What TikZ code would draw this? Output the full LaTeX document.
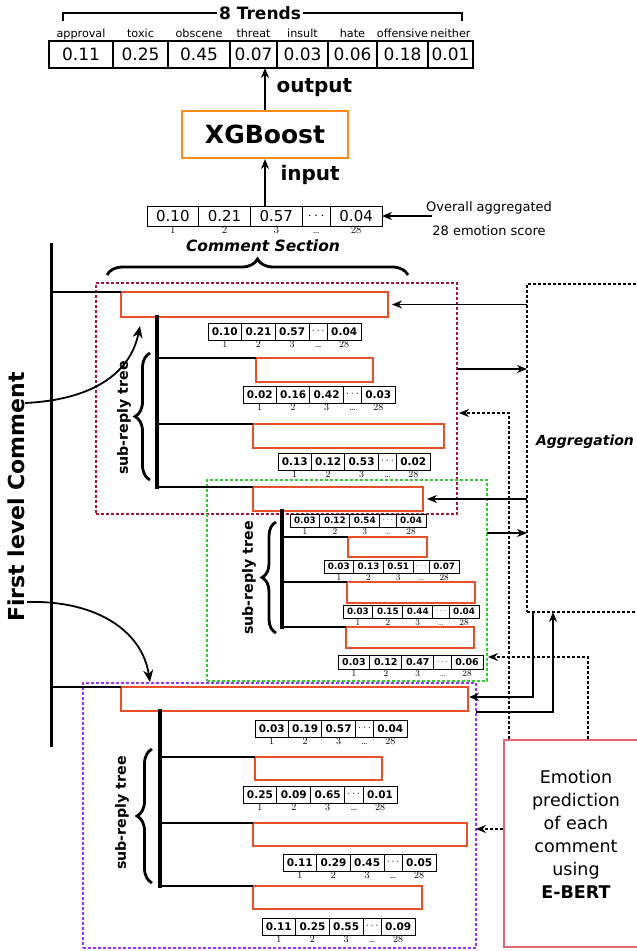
\documentclass[tikz,border=0pt]{standalone}
\usepackage{fontspec}
\newfontfamily\dv{DejaVu Sans}
\usetikzlibrary{arrows.meta,decorations.pathreplacing,fit,calc}
\definecolor{cbox}{HTML}{E8502A}
\definecolor{xgb}{HTML}{FF8C1A}
\definecolor{dred}{HTML}{A31535}
\definecolor{dgreen}{HTML}{33CC33}
\definecolor{dpurple}{HTML}{9933FF}
\definecolor{ebox}{HTML}{E06870}
\newcommand\idxfont{\fontsize{9}{9}\selectfont}
\newcommand{\emvec}[9]{%
  \node[cell, minimum width={0.22*#3}, minimum height=#4, font={#5}] (#1a) at #2 {#6};
  \node[cell, minimum width={0.22*#3}, minimum height=#4, font={#5}] (#1b) at (#1a.north east) {#7};
  \node[cell, minimum width={0.22*#3}, minimum height=#4, font={#5}] (#1c) at (#1b.north east) {#8};
  \node[cell, minimum width={0.12*#3}, minimum height=#4, font={#5}] (#1d) at (#1c.north east) {$\cdots$};
  \node[cell, minimum width={0.22*#3}, minimum height=#4, font={#5}] (#1e) at (#1d.north east) {#9};
  \foreach \vx/\vt in {a/1,b/2,c/3,d/\dots,e/28} \node[idx] at (#1\vx.south) {\vt};
}
\begin{document}
\begin{tikzpicture}[x=1pt,y=-1pt,
  cb/.style={draw=cbox, line width=2pt, inner sep=0pt, outer sep=0pt},
  dbox/.style={line width=1.3pt, dash pattern=on 3pt off 2pt, inner sep=0pt, outer sep=0pt},
  cell/.style={draw, line width=0.9pt, inner sep=0pt, outer sep=0pt, anchor=north west},
  tcell/.style={draw, line width=1.8pt, inner sep=0pt, outer sep=0pt, anchor=north west, minimum height=27pt, font=\dv\fontsize{17}{17}\selectfont},
  lbl/.style={anchor=base, inner sep=0pt, font=\dv\fontsize{11.2}{12}\selectfont},
  idx/.style={font=\idxfont, anchor=north, inner sep=0pt, text height=6.5pt, text depth=0pt, yshift=-1pt},
  trunk/.style={line width=3.5pt, line cap=rect},
  br/.style={line width=2.5pt},
  arr/.style={-{Stealth[length=10pt,width=8pt]}, line width=1.3pt},
  darr/.style={arr, dash pattern=on 3pt off 2pt},
  carr/.style={-{Stealth[length=12pt,width=10pt]}, line width=1.8pt},
  brc/.style={decorate, decoration={brace, amplitude=#1}, line width=2.8pt},
  brc/.default=15,
  srt/.style={rotate=90, font=\dv\bfseries\fontsize{14.2}{15}\selectfont}
]
\clip (0,0) rectangle (637,951);

% ---------- top table ----------
\draw[line width=1.6pt] (63,21) -- (63,13) -- (462,13) -- (462,21);
\node[fill=white, inner sep=2pt, font=\dv\bfseries\fontsize{17}{17}\selectfont] (tr) at (260,13) {8 Trends};
\foreach \nm/\xa/\xb/\v/\lb in {t1/49/113/0.11/approval, t2/113/168/0.25/toxic, t3/168/230/0.45/obscene, t4/230/277/0.07/threat, t5/277/328/0.03/insult, t6/328/377/0.06/hate, t7/377/428/0.18/offensive, t8/428/473/0.01/neither}{
  \node[tcell, minimum width=\xb-\xa] (\nm) at (\xa,41) {\v};
  \node[lbl] at ($(\nm.north)+(0,-4)$) {\lb};
}

% ---------- XGBoost ----------
\node[draw=xgb, line width=2pt, minimum width=166pt, minimum height=47pt, inner sep=0pt,
      font=\dv\bfseries\fontsize{25}{25}\selectfont] (xg) at (265,134.5) {XGBoost};
\draw[arr, line width=1.8pt] (xg.north) -- (xg.north |- t4.south);
\node[anchor=west, font=\dv\bfseries\fontsize{20}{20}\selectfont] at (273,88) {output};
\node[anchor=west, font=\dv\bfseries\fontsize{20}{20}\selectfont] at (277,175) {input};

% ---------- input vector ----------
\renewcommand\idxfont{\fontsize{11}{11}\selectfont}
\emvec{iv}{(147,206)}{235}{20}{\dv\fontsize{15}{15}\selectfont}{0.10}{0.21}{0.57}{0.04}
\draw[arr, line width=1.8pt] (xg.south |- ivc.north) -- (xg.south);
\node[align=center, font=\dv\fontsize{13}{24}\selectfont] (ov) at (489,219) {Overall aggregated\\28 emotion score};
\draw[arr, line width=1.6pt] ($(ive.east -| ov.west)+(9,0)$) -- (ive.east);
\node[font=\dv\bfseries\itshape\fontsize{15.5}{16}\selectfont] (cs) at (263,246) {Comment Section};
\draw[brc=16] (107,275) -- (408,275);

% ---------- first level line ----------
\node[rotate=90, font=\dv\bfseries\fontsize{22}{22}\selectfont] (flc) at (16,497) {First level Comment};
\coordinate (mtop) at (51,243);
\coordinate (mbot) at (51,747);
\draw[line width=3pt] (mtop) -- (mbot);

% ---------- dashed boxes ----------
\node[dbox, draw=dred, fit={(96,283)(457,514)}] (rbox) {};
\node[dbox, draw=dgreen, fit={(207,480)(487,681)}] (gbox) {};
\node[dbox, draw=dpurple, fit={(83,683)(476,948)}] (pbox) {};

% ---------- red section ----------
\renewcommand\idxfont{\fontsize{10}{10}\selectfont}
\node[cb, fit={(121,292)(388,317)}] (r0) {};
\node[cb, fit={(256,358)(373,382)}] (r1) {};
\node[cb, fit={(253,424)(444,448)}] (r2) {};
\node[cb, fit={(253,487)(423,511)}] (g0) {};
\draw[br] (mtop |- r0.north west) -- (r0.north west);
\coordinate (rt) at (157,0);
\draw[trunk] (rt |- r0.south) -- (rt |- g0.north west);
\foreach \b in {r1,r2,g0} \draw[br] (rt |- \b.north west) -- (\b.north west);
\emvec{rva}{(208,323)}{153}{17}{\dv\bfseries\fontsize{10.5}{11}\selectfont}{0.10}{0.21}{0.57}{0.04}
\emvec{rvb}{(243,386)}{152}{17}{\dv\bfseries\fontsize{10.5}{11}\selectfont}{0.02}{0.16}{0.42}{0.03}
\emvec{rvc}{(278,453)}{152}{17}{\dv\bfseries\fontsize{10.5}{11}\selectfont}{0.13}{0.12}{0.53}{0.02}
\draw[brc=15] (150,480) -- (150,353);
\node[srt] at (124,418) {sub-reply tree};

% ---------- green section ----------
\renewcommand\idxfont{\fontsize{9}{9}\selectfont}
\node[cb, fit={(348,537)(427,557)}] (g1) {};
\node[cb, fit={(347,582)(475,603)}] (g2) {};
\node[cb, fit={(346,627)(474,648)}] (g3) {};
\coordinate (gt) at (282,0);
\draw[trunk] (gt |- g0.south) -- (gt |- g3.north west);
\foreach \b in {g1,g2,g3} \draw[br] (gt |- \b.north west) -- (\b.north west);
\emvec{gva}{(290,514)}{136}{13}{\dv\bfseries\fontsize{8.8}{9}\selectfont}{0.03}{0.12}{0.54}{0.04}
\emvec{gvb}{(324,560)}{135}{13}{\dv\bfseries\fontsize{8.8}{9}\selectfont}{0.03}{0.13}{0.51}{0.07}
\emvec{gvc}{(343,605)}{136}{13}{\dv\bfseries\fontsize{8.8}{9}\selectfont}{0.03}{0.15}{0.44}{0.04}
\emvec{gvd}{(338,655)}{145}{14}{\dv\bfseries\fontsize{9.5}{10}\selectfont}{0.03}{0.12}{0.47}{0.06}
\draw[brc=14] (276,633) -- (276,522);
\node[srt] at (249,578) {sub-reply tree};

% ---------- purple section ----------
\renewcommand\idxfont{\fontsize{10}{10}\selectfont}
\node[cb, fit={(121,687)(468,711)}] (p0) {};
\node[cb, fit={(255,757)(382,780)}] (p1) {};
\node[cb, fit={(253,823)(467,846)}] (p2) {};
\node[cb, fit={(253,886)(422,909)}] (p3) {};
\draw[br] (mtop |- p0.north west) -- (p0.north west);
\coordinate (pt) at (160,0);
\draw[trunk] (pt |- p0.south) -- (pt |- p3.north west);
\foreach \b in {p1,p2,p3} \draw[br] (pt |- \b.north west) -- (\b.north west);
\emvec{pva}{(255,720)}{152}{17}{\dv\bfseries\fontsize{10.5}{11}\selectfont}{0.03}{0.19}{0.57}{0.04}
\emvec{pvb}{(243,786)}{154}{17}{\dv\bfseries\fontsize{10.5}{11}\selectfont}{0.25}{0.09}{0.65}{0.01}
\emvec{pvc}{(283,854)}{153}{17}{\dv\bfseries\fontsize{10.5}{11}\selectfont}{0.11}{0.29}{0.45}{0.05}
\emvec{pvd}{(262,918)}{153}{17}{\dv\bfseries\fontsize{10.5}{11}\selectfont}{0.11}{0.25}{0.55}{0.09}
\draw[brc=15] (152,883) -- (152,749);
\node[srt] at (122,813) {sub-reply tree};

% ---------- curved arrows ----------
\coordinate (fa) at (25,403);
\coordinate (fb) at (27,602);
\draw[carr] (fa) .. controls (90,400) and (130,375) .. ($(r0.south west)+(19,9)$);
\draw[carr] (fb) .. controls (95,600) and (142,630) .. ($(pbox.north west)+(67,-1)$);

% ---------- aggregation / emotion ----------
\node[dbox, draw=black, fit={(527,284)(645,612)}] (agg) {};
\node[font=\dv\bfseries\itshape\fontsize{14}{14}\selectfont] at (585,442) {Aggregation};
\node[draw=ebox, line width=1.5pt, inner sep=0pt, fit={(504,740)(645,947)}] (em) {};
\node[align=center, font=\dv\fontsize{17.5}{23}\selectfont] at (576,834) {Emotion\\prediction\\of each\\comment\\using\\\textbf{E-BERT}};

\draw[arr, shorten >=4pt] (agg.west |- r0.east) -- (r0.east);
\coordinate (c2) at (457,369);
\draw[arr] (c2) -- (agg.west |- c2);
\coordinate (c3) at (509,413);
\draw[darr, shorten >=2pt] (c3 |- em.north) -- (c3) -- (rbox.east |- c3);
\draw[arr, shorten >=4pt] (agg.west |- g0.east) -- (g0.east);
\coordinate (c5) at (487,533);
\draw[arr] (c5) -- (agg.west |- c5);
\coordinate (c6) at (588,657);
\draw[darr, shorten >=1pt] (c6 |- em.north) -- (c6) -- (gbox.east |- c6);
\coordinate (c7) at (533,697);
\draw[arr, shorten >=1pt] (c7 |- agg.south) -- (c7) -- (p0.east |- c7);
\coordinate (c8) at (553,712);
\draw[arr] (pbox.east |- c8) -- (c8) -- (c8 |- agg.south);
\coordinate (c9) at (504,829);
\draw[darr] (em.west |- c9) -- (pbox.east |- c9);
\end{tikzpicture}
\end{document}
